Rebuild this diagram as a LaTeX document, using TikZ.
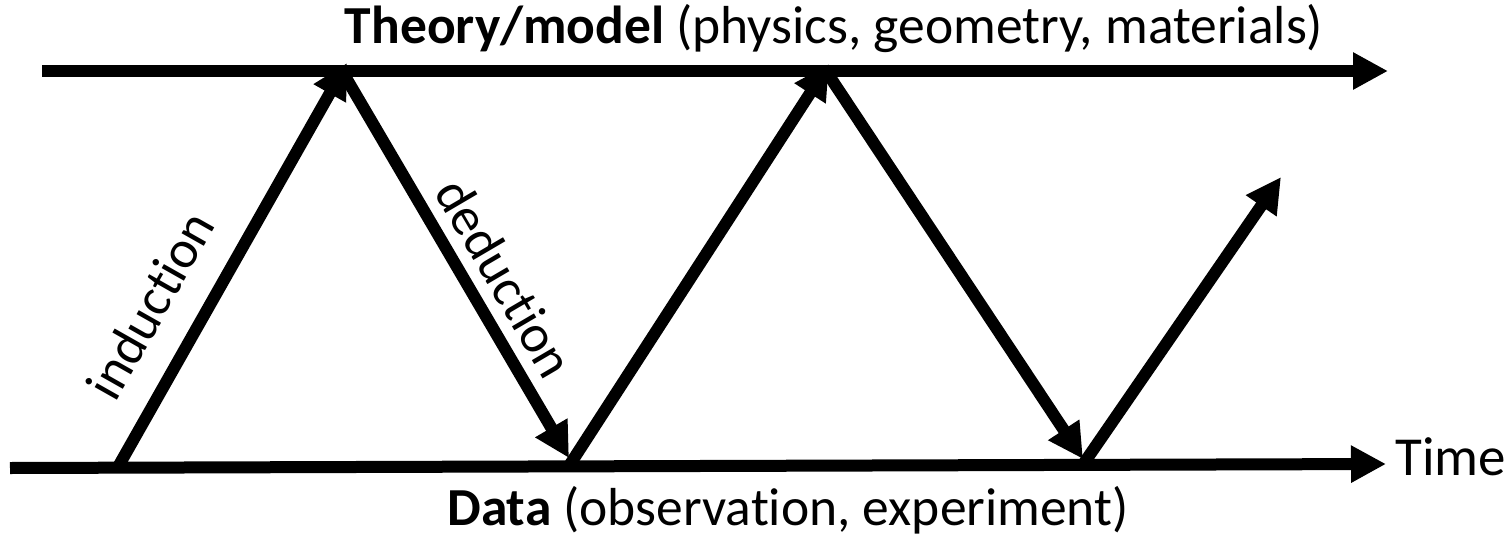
\documentclass[tikz,border=0pt]{standalone}
\usepackage{fontspec}
\setmainfont[Ligatures=NoCommon]{Carlito}
\usetikzlibrary{arrows.meta}
\tikzset{
  bigarrow/.style={line width=12pt, -{Triangle[length=35pt,width=35pt]}, shorten >=0pt},
  lbl/.style={inner sep=0pt, font=\fontsize{53.5}{64}\selectfont},
}
\begin{document}
\begin{tikzpicture}[x=1pt,y=-1pt]
\useasboundingbox (0,0) rectangle (1510,533);
% time axes
\coordinate (t0) at (42,71);
\coordinate (t1) at (1388,71);
\coordinate (b0) at (10,468);
\coordinate (b1) at (1386,464);
% zig-zag points
\coordinate (d1) at (118,467);
\coordinate (u1) at (347,63);
\coordinate (u1s) at (342,71);
\coordinate (d2) at (569,458);
\coordinate (d2s) at (569,466);
\coordinate (u2) at (829,64);
\coordinate (u2s) at (826,71);
\coordinate (d3) at (1083,459);
\coordinate (d3s) at (1082,466);
\coordinate (e) at (1281,177);

\draw[bigarrow] (t0) -- (t1);
\draw[bigarrow] (b0) -- (b1);
\draw[bigarrow] (d1) -- (u1);
\draw[bigarrow] (u1s) -- (d2);
\draw[bigarrow] (d2s) -- (u2);
\draw[bigarrow] (u2s) -- (d3);
\draw[bigarrow] (d3s) -- (e);

\node[lbl, anchor=base] (theory) at (834,43) {\textbf{Theory/model} (physics, geometry, materials)};
\node[lbl, anchor=base] (data) at (788,525) {\textbf{Data} (observation, experiment)};
\node[lbl, anchor=base west, font=\fontsize{55}{64}\selectfont] (time) at (1395,475) {Time};
\node[lbl, rotate=60.5] (ind) at (150,305) {induction};
\node[lbl, rotate=-59.6] (ded) at (505,278) {deduction};
\end{tikzpicture}
\end{document}
